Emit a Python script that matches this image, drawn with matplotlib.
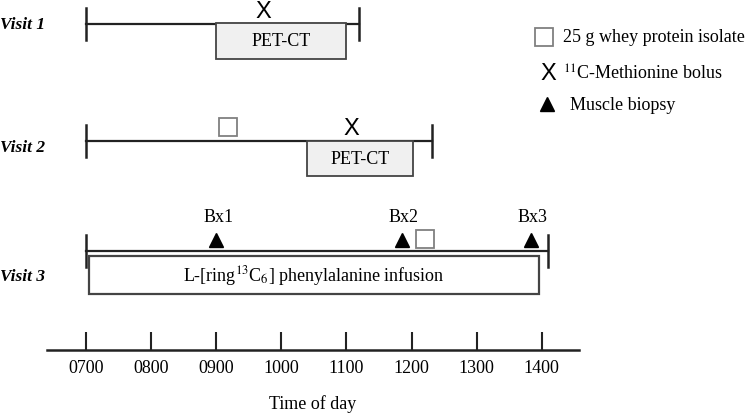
import matplotlib
matplotlib.use("Agg")
import matplotlib.pyplot as plt
from matplotlib.patches import Rectangle

plt.rcParams['font.family'] = ['Liberation Serif', 'DejaVu Serif']
plt.rcParams['mathtext.fontset'] = 'stix'

# times in decimal hours
visit_names = ['Visit 1', 'Visit 2', 'Visit 3']
visit_start = [7.0, 7.0, 7.0]
visit_end = [11.2, 12.32, 14.1]
petct_start = [9.0, 10.4]
petct_end = [11.0, 12.03]
bolus_time = [9.72, 11.07]
whey_time = [None, 9.18, 12.2]
biopsy_time = [9.0, 11.85, 13.83]
biopsy_labels = ['Bx1', 'Bx2', 'Bx3']
infusion = [7.05, 13.96]
tick_hours = [7, 8, 9, 10, 11, 12, 13, 14]
tick_labels = ['0700', '0800', '0900', '1000', '1100', '1200', '1300', '1400']

W, H = 750, 416
x0px, pxh = 86, 65.1  # pixel of 0700 and pixels per hour


def h(px):
    return 7 + (px - x0px) / pxh


fig = plt.figure(figsize=(7.5, 4.16), dpi=100)
ax = fig.add_axes([0, 0, 1, 1])
ax.set_xlim(h(0), h(W))
ax.set_ylim(H, 0)
ax.axis('off')

fs = 13
line_c = '#222222'
box_c = '#444444'
row_y = [24, 141, 251]
label_y = [25, 148, 277]

for i in range(3):
    y = row_y[i]
    ax.plot([visit_start[i], visit_end[i]], [y, y], color=line_c, lw=1.6, zorder=2)
    ax.plot([visit_start[i], visit_start[i]], [y - 16, y + 16], color=line_c, lw=1.8, zorder=2)
    ax.plot([visit_end[i], visit_end[i]], [y - 16, y + 16], color=line_c, lw=1.8, zorder=2)
    ax.text(0, label_y[i], visit_names[i], transform=ax.get_yaxis_transform(),
            fontsize=12.5, fontweight='bold', style='italic', va='center', ha='left')

# PET-CT boxes
petct_y = [(23, 59), (141, 176)]
for i in range(2):
    y1, y2 = petct_y[i]
    ax.add_patch(Rectangle((petct_start[i], y1), petct_end[i] - petct_start[i], y2 - y1,
                           facecolor='#f0f0f0', edgecolor=box_c, lw=1.3, zorder=3))
    ax.text((petct_start[i] + petct_end[i]) / 2, (y1 + y2) / 2 + 1, 'PET-CT',
            fontsize=fs, ha='center', va='center', zorder=4)

# bolus X marks
bolus_y = [11.5, 129]
for i in range(2):
    ax.text(bolus_time[i], bolus_y[i], 'X', family='Liberation Sans', fontsize=17,
            ha='center', va='center', zorder=4)

# whey squares
whey_y = [None, 127, 239]
for i in range(3):
    if whey_time[i] is not None:
        ax.plot(whey_time[i], whey_y[i], marker='s', ms=13.5, mfc='white',
                mec='#808080', mew=1.3, zorder=4)

# infusion box
ax.add_patch(Rectangle((infusion[0], 256), infusion[1] - infusion[0], 38,
                       facecolor='white', edgecolor=box_c, lw=1.6, zorder=3))
ax.text((infusion[0] + infusion[1]) / 2, 276,
        r'L-[ring$^{13}$C$_{6}$] phenylalanine infusion',
        fontsize=fs, ha='center', va='center', zorder=4)

# biopsies
for t, lab in zip(biopsy_time, biopsy_labels):
    ax.plot(t, 240, marker='^', ms=10.5, color='black', zorder=4)
    ax.text(t + 0.03, 217, lab, fontsize=fs, ha='center', va='center')

# legend
ax.plot(h(544), 37, marker='s', ms=12.5, mfc='white', mec='#808080', mew=1.3)
ax.text(h(563), 37, '25 g whey protein isolate', fontsize=fs, va='center', ha='left')
ax.text(h(548), 74, 'X', family='Liberation Sans', fontsize=17, ha='center', va='center')
ax.text(h(563), 74, r'$^{11}$C-Methionine bolus', fontsize=fs, va='center', ha='left')
ax.plot(h(547), 104, marker='^', ms=10.5, color='black')
ax.text(h(570), 105, 'Muscle biopsy', fontsize=fs, va='center', ha='left')

# time axis
left_px, right_px, axis_y = 47, 579, 350
ax_t = fig.add_axes([left_px / W, (H - axis_y) / H, (right_px - left_px) / W, 0.0001])
ax_t.set_xlim(h(left_px), h(right_px))
ax_t.set_yticks([])
for s in ['left', 'right', 'top']:
    ax_t.spines[s].set_visible(False)
ax_t.spines['bottom'].set_linewidth(1.8)
ax_t.spines['bottom'].set_color(line_c)
ax_t.set_xticks(tick_hours)
ax_t.set_xticklabels(tick_labels, fontsize=fs)
ax_t.tick_params(axis='x', direction='in', length=13, width=1.5, color=line_c, pad=7)
ax_t.set_xlabel('Time of day', fontsize=fs, labelpad=13)

fig.savefig('out.png', dpi=100)
